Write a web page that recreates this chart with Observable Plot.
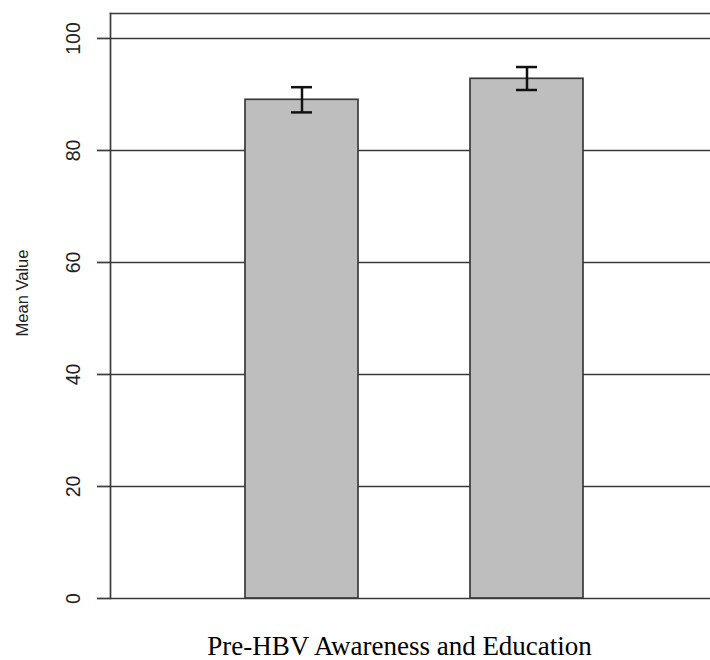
<!DOCTYPE html>
<html>
<head>
<meta charset="utf-8">
<script src="https://cdn.jsdelivr.net/npm/d3@7"></script>
<script src="https://cdn.jsdelivr.net/npm/@observablehq/plot@0.6"></script>
<style>
  html, body { margin: 0; padding: 0; background: #fff; }
  #chart svg { display: block; }
  #xlabel {
    width: 710px; margin-top: 11px; padding-left: 89px; box-sizing: border-box;
    text-align: center; font-family: "Liberation Serif", "Times New Roman", serif;
    font-size: 27px; line-height: 30px; color: #000;
  }
</style>
</head>
<body>
<div id="chart"></div>
<div id="xlabel">Pre-HBV Awareness and Education</div>
<script>
const categories = ["Bar 1", "Bar 2"];
const means = [89.05, 92.8];
const lower = [86.8, 90.8];
const upper = [91.3, 94.9];
const yTicks = [0, 20, 40, 60, 80, 100];
const yLabel = "Mean Value";

const data = categories.map((c, i) => ({cat: c, mean: means[i], lo: lower[i], hi: upper[i]}));
const lineColor = "#3a3a3a";

const chart = Plot.plot({
  width: 710,
  height: 620,
  marginLeft: 110,
  marginRight: 0,
  marginTop: 13,
  marginBottom: 22,
  style: {fontFamily: "'Liberation Sans', Arial, sans-serif", background: "#fff"},
  x: {type: "band", domain: categories, paddingInner: 0.5, paddingOuter: 0.58, align: 0.515, axis: null},
  y: {domain: [0, 104.46], axis: null},
  marks: [
    Plot.gridY(yTicks, {stroke: lineColor, strokeOpacity: 1, strokeWidth: 1.7}),
    Plot.axisY(yTicks, {tickSize: 13, tickFormat: () => "", stroke: lineColor, strokeWidth: 1.7}),
    Plot.text(yTicks, {y: d => d, text: d => String(d), frameAnchor: "left", dx: -36.5, rotate: -90,
      textAnchor: "middle", lineAnchor: "middle", fontSize: 19.5, fill: "#222"}),
    Plot.text([yLabel], {text: d => d, frameAnchor: "left", dx: -88, dy: -13, rotate: -90,
      textAnchor: "middle", lineAnchor: "middle", fontSize: 16.5, fill: "#222"}),
    Plot.frame({anchor: "top", stroke: lineColor, strokeWidth: 1.7}),
    Plot.frame({anchor: "left", stroke: lineColor, strokeWidth: 1.7}),
    Plot.barY(data, {x: "cat", y: "mean", fill: "#bebebe", stroke: lineColor, strokeWidth: 1.7}),
    Plot.ruleX(data, {x: "cat", y1: "lo", y2: "hi", stroke: "#111", strokeWidth: 2.5}),
    Plot.tickY(data, {x: "cat", y: "lo", insetLeft: 46, insetRight: 46, stroke: "#111", strokeWidth: 2.5}),
    Plot.tickY(data, {x: "cat", y: "hi", insetLeft: 46, insetRight: 46, stroke: "#111", strokeWidth: 2.5})
  ]
});
document.getElementById("chart").appendChild(chart);
</script>
</body>
</html>
